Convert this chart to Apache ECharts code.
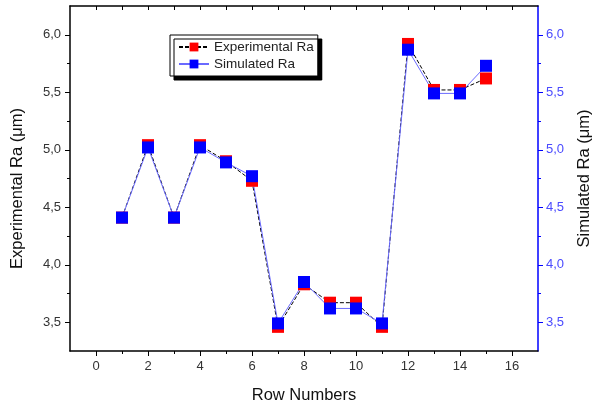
<!DOCTYPE html>
<html><head><meta charset="utf-8">
<script src="https://cdn.jsdelivr.net/npm/echarts@6/dist/echarts.min.js"></script>
<style>html,body{margin:0;padding:0;background:#fff}#c{width:592px;height:408px}</style>
</head><body><div id="c"></div>
<script>
const rows = [1,2,3,4,5,6,7,8,9,10,11,12,13,14,15];
const experimentalRa = [4.41,5.04,4.41,5.04,4.90,4.73,3.46,3.83,3.67,3.67,3.46,5.92,5.52,5.52,5.62];
const simulatedRa   = [4.41,5.02,4.41,5.02,4.89,4.77,3.49,3.85,3.62,3.62,3.49,5.87,5.49,5.49,5.73];
const xMajor = [0,2,4,6,8,10,12,14,16];
const xMinor = [1,3,5,7,9,11,13,15];
const xAll = [0,1,2,3,4,5,6,7,8,9,10,11,12,13,14,15,16];
const yMajor = [3.5,4.0,4.5,5.0,5.5,6.0];
const yMinor = [3.75,4.25,4.75,5.25,5.75];

const FONT = 'Liberation Sans';
const BLUE = '#0000ff';
const fmt = v => v.toFixed(1).replace('.', ',');

const chart = echarts.init(document.getElementById('c'));
const xBase = {type:'value', min:-1, max:17, splitLine:{show:false}, gridIndex:0};
const yBase = {type:'value', min:3.25, max:6.25, splitLine:{show:false}, gridIndex:0};
chart.setOption({
  animation:false,
  backgroundColor:'#fff',
  textStyle:{fontFamily:FONT},
  grid:{left:70, right:54, top:6, bottom:57, containLabel:false, outerBoundsMode:'none'},
  legend:{
    orient:'vertical', left:170, top:35, padding:[5,4,5,8], itemGap:3,
    itemWidth:30, itemHeight:11,
    backgroundColor:'#fff', borderColor:'#000', borderWidth:1,
    shadowColor:'#000', shadowOffsetX:4, shadowOffsetY:4, shadowBlur:0.01,
    textStyle:{fontFamily:FONT, fontSize:13.5, color:'#222'},
    data:['Experimental Ra','Simulated Ra']
  },
  xAxis:[
    Object.assign({}, xBase, {position:'bottom',
      name:'Row Numbers', nameLocation:'middle', nameGap:36,
      nameTextStyle:{fontFamily:FONT, fontSize:16.5, color:'#111'},
      axisLine:{onZero:false, lineStyle:{color:'#000', width:1.5}},
      axisTick:{customValues:xMajor, length:5, lineStyle:{color:'#000'}},
      axisLabel:{customValues:xMajor, fontFamily:FONT, fontSize:13, color:'#333', margin:9}}),
    Object.assign({}, xBase, {position:'bottom',
      axisLine:{show:false, onZero:false},
      axisTick:{customValues:xMinor, length:3, lineStyle:{color:'#000'}},
      axisLabel:{show:false}}),
    Object.assign({}, xBase, {position:'top',
      axisLine:{onZero:false, lineStyle:{color:'#000', width:1.5}},
      axisTick:{customValues:xAll, inside:true, length:4, lineStyle:{color:'#000'}},
      axisLabel:{show:false}})
  ],
  yAxis:[
    Object.assign({}, yBase, {position:'left',
      name:'Experimental Ra (μm)', nameLocation:'middle', nameGap:44, nameRotate:90,
      nameTextStyle:{fontFamily:FONT, fontSize:16.5, color:'#111', padding:[0,20,0,0]},
      axisLine:{onZero:false, lineStyle:{color:'#000', width:1.5}},
      axisTick:{customValues:yMajor, length:5, lineStyle:{color:'#000'}},
      axisLabel:{customValues:yMajor, formatter:fmt, fontFamily:FONT, fontSize:13, color:'#333', margin:9}}),
    Object.assign({}, yBase, {position:'left',
      axisLine:{show:false, onZero:false},
      axisTick:{customValues:yMinor, length:3, lineStyle:{color:'#000'}},
      axisLabel:{show:false}}),
    Object.assign({}, yBase, {position:'right',
      name:'Simulated Ra (μm)', nameLocation:'middle', nameGap:38, nameRotate:90,
      nameTextStyle:{fontFamily:FONT, fontSize:16.5, color:'#111'},
      axisLine:{onZero:false, lineStyle:{color:BLUE, width:1.5}},
      axisTick:{customValues:yMajor, length:5, lineStyle:{color:BLUE}},
      axisLabel:{customValues:yMajor, formatter:fmt, fontFamily:FONT, fontSize:13, color:'#4a4aff', margin:8}}),
    Object.assign({}, yBase, {position:'right',
      axisLine:{show:false, onZero:false},
      axisTick:{customValues:yMinor, length:3, lineStyle:{color:BLUE}},
      axisLabel:{show:false}})
  ],
  series:[
    {name:'Experimental Ra', type:'line', xAxisIndex:0, yAxisIndex:0,
      data:rows.map((r,i)=>[r, experimentalRa[i]]),
      symbol:'rect', symbolSize:12,
      itemStyle:{color:'#ff0000'},
      lineStyle:{color:'#000', width:1, type:[4,2]}},
    {name:'Simulated Ra', type:'line', xAxisIndex:0, yAxisIndex:2,
      data:rows.map((r,i)=>[r, simulatedRa[i]]),
      symbol:'rect', symbolSize:12,
      itemStyle:{color:'#0000ff'},
      lineStyle:{color:'#6a6aff', width:1}}
  ]
});
</script></body></html>
